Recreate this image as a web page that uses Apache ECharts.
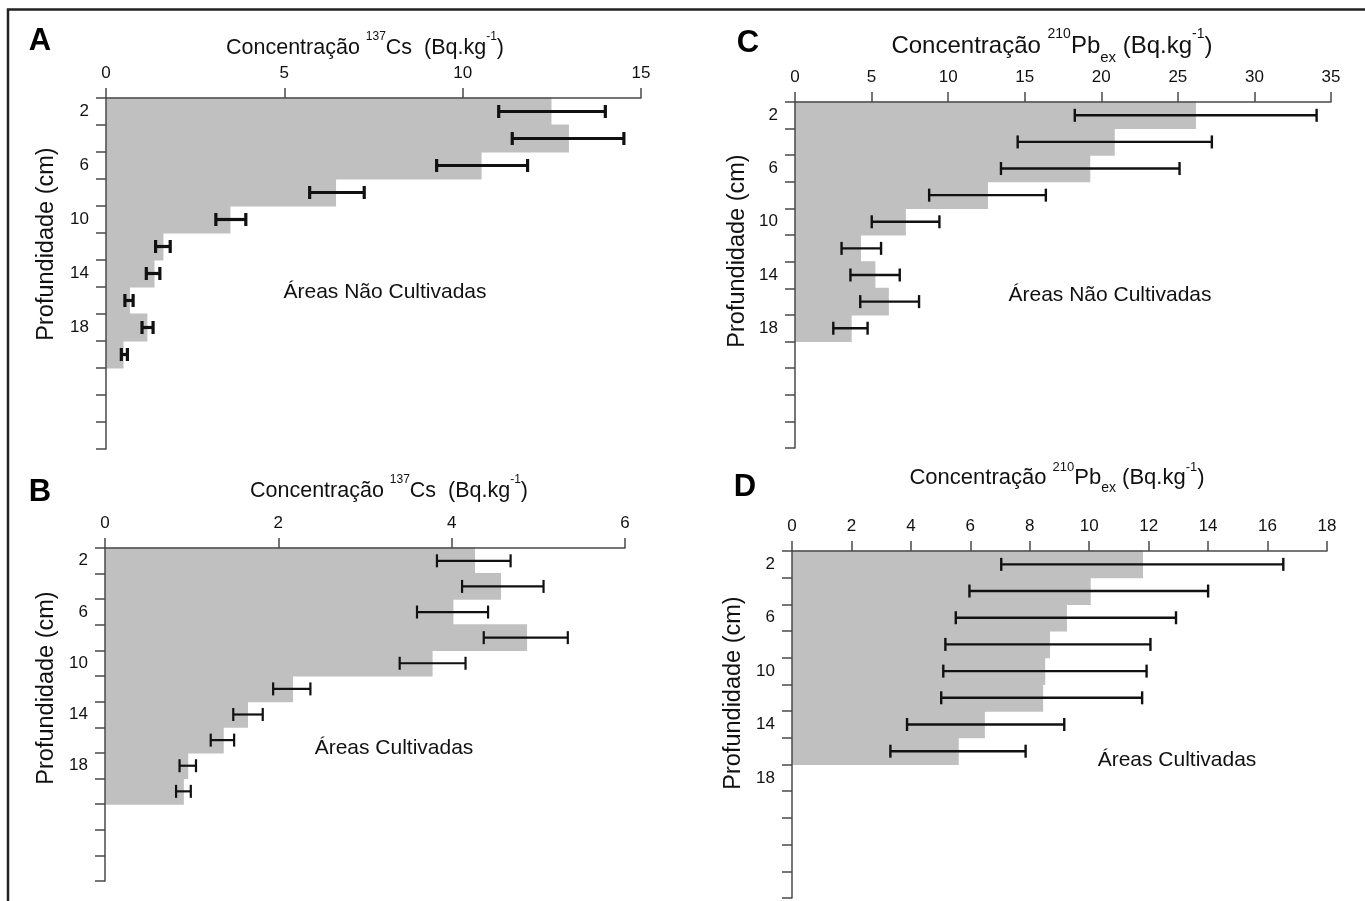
<!DOCTYPE html>
<html>
<head>
<meta charset="utf-8">
<script src="https://cdn.jsdelivr.net/npm/echarts@6/dist/echarts.min.js"></script>
<style>
html,body{margin:0;padding:0;background:#fff;}
#chart{width:1365px;height:901px;}
</style>
</head>
<body>
<div id="chart"></div>
<script>
// ---- Data ----
const depthBands = ['2','4','6','8','10','12','14','16','18','20','22','24','26'];
const depthLabelsShown = ['2','6','10','14','18'];

// A: 137Cs, Áreas Não Cultivadas
const csNaoCultValues = [12.49, 12.98, 10.53, 6.45, 3.49, 1.61, 1.36, 0.67, 1.16, 0.49];
const csNaoCultLow    = [11.01, 11.39, 9.27, 5.71, 3.08, 1.39, 1.13, 0.53, 1.01, 0.43];
const csNaoCultHigh   = [14.00, 14.52, 11.82, 7.24, 3.92, 1.80, 1.51, 0.76, 1.32, 0.60];

// B: 137Cs, Áreas Cultivadas
const csCultValues = [4.27, 4.57, 4.02, 4.87, 3.78, 2.17, 1.65, 1.37, 0.96, 0.91];
const csCultLow    = [3.83, 4.12, 3.60, 4.37, 3.40, 1.94, 1.48, 1.22, 0.86, 0.82];
const csCultHigh   = [4.68, 5.06, 4.42, 5.34, 4.16, 2.37, 1.82, 1.49, 1.05, 0.99];

// C: 210Pbex, Áreas Não Cultivadas
const pbNaoCultValues = [26.18, 20.88, 19.28, 12.60, 7.24, 4.31, 5.25, 6.13, 3.70];
const pbNaoCultLow    = [18.27, 14.54, 13.45, 8.76, 5.01, 3.04, 3.62, 4.26, 2.50];
const pbNaoCultHigh   = [34.06, 27.22, 25.11, 16.38, 9.43, 5.62, 6.84, 8.10, 4.74];

// D: 210Pbex, Áreas Cultivadas
const pbCultValues = [11.81, 10.05, 9.25, 8.68, 8.52, 8.45, 6.49, 5.61];
const pbCultLow    = [7.04, 5.97, 5.51, 5.16, 5.09, 5.02, 3.87, 3.31];
const pbCultHigh   = [16.53, 14.00, 12.92, 12.06, 11.93, 11.78, 9.16, 7.86];

// Axis scales (max, interval)
const axisMaxA = 15, axisIntA = 5;
const axisMaxB = 6,  axisIntB = 2;
const axisMaxC = 35, axisIntC = 5;
const axisMaxD = 18, axisIntD = 2;

const panelLetters = ['A','B','C','D'];
const titleCs = '{a|Concentração }{s|137}{a|Cs  (Bq.kg}{s|-1}{a|)}';
const titlePb = '{a|Concentração }{s|210}{a|Pb}{b|ex}{a| (Bq.kg}{s|-1}{a|)}';
const yName = 'Profundidade (cm)';
const noteNaoCult = 'Áreas Não Cultivadas';
const noteCult = 'Áreas Cultivadas';

// ---- Layout ----
const FONT = '"Liberation Sans", Arial, sans-serif';
const grids = [
  {left: 106, top: 98,  width: 535, height: 351},
  {left: 105, top: 548, width: 520, height: 333},
  {left: 795, top: 102, width: 536, height: 346},
  {left: 792, top: 551, width: 535, height: 347}
];
const axisCfg = [[axisMaxA, axisIntA],[axisMaxB, axisIntB],[axisMaxC, axisIntC],[axisMaxD, axisIntD]];
const panels = [
  {v: csNaoCultValues, lo: csNaoCultLow, hi: csNaoCultHigh, lw: 3.2},
  {v: csCultValues, lo: csCultLow, hi: csCultHigh, lw: 2.2},
  {v: pbNaoCultValues, lo: pbNaoCultLow, hi: pbNaoCultHigh, lw: 2.4},
  {v: pbCultValues, lo: pbCultLow, hi: pbCultHigh, lw: 2.4}
];
const axisColor = '#4a4a4a';
const textColor = '#111';
const barColor = '#c0c0c0';

const xAxes = [], yAxes = [], series = [];
panels.forEach((p, i) => {
  xAxes.push({
    type: 'value', gridIndex: i, position: 'top', min: 0,
    max: axisCfg[i][0], interval: axisCfg[i][1],
    axisLine: {show: true, lineStyle: {color: axisColor, width: 1.5}},
    axisTick: {show: true, inside: false, length: 10, lineStyle: {color: axisColor, width: 1.5}},
    axisLabel: {color: textColor, fontFamily: FONT, fontSize: 17, margin: 16},
    splitLine: {show: false}, z: 5
  });
  yAxes.push({
    type: 'category', gridIndex: i, inverse: true, data: depthBands,
    axisLine: {show: true, onZero: false, lineStyle: {color: axisColor, width: 1.5}},
    axisTick: {show: true, length: 10, interval: 0, lineStyle: {color: axisColor, width: 1.5}},
    axisLabel: {
      interval: 0, color: textColor, fontFamily: FONT, fontSize: 17, margin: 17,
      formatter: (v) => depthLabelsShown.includes(v) ? v : ''
    },
    splitLine: {show: false}, z: 5
  });
  // bars (custom so adjacent bands join without seams)
  const barData = p.v.map((v, k) => [v, k]);
  series.push({
    type: 'custom', xAxisIndex: i, yAxisIndex: i, data: barData, z: 1,
    encode: {x: 0, y: 1}, animation: false, silent: true,
    renderItem: (params, api) => {
      const s = api.coord([0, api.value(1)]);
      const e = api.coord([api.value(0), api.value(1)]);
      const h = api.size([0, 1])[1];
      return {type: 'rect',
        shape: {x: s[0], y: s[1] - h / 2 - 0.5, width: e[0] - s[0], height: h + 1},
        style: {fill: barColor}};
    }
  });
  const errData = p.lo.map((lo, k) => [lo, p.hi[k], k]);
  const lw = p.lw;
  series.push({
    type: 'custom', xAxisIndex: i, yAxisIndex: i, data: errData, z: 10,
    encode: {x: [0, 1], y: 2}, animation: false, silent: true,
    renderItem: (params, api) => {
      const a = api.coord([api.value(0), api.value(2)]);
      const b = api.coord([api.value(1), api.value(2)]);
      const y = a[1], cap = 6.5;
      const st = {stroke: '#111', lineWidth: lw};
      return {type: 'group', children: [
        {type: 'line', shape: {x1: a[0], y1: y, x2: b[0], y2: y}, style: st},
        {type: 'line', shape: {x1: a[0], y1: y - cap, x2: a[0], y2: y + cap}, style: st},
        {type: 'line', shape: {x1: b[0], y1: y - cap, x2: b[0], y2: y + cap}, style: st}
      ]};
    }
  });
});

function richFor(fs) {
  return {
    a: {fontSize: fs, fontFamily: FONT, color: textColor, lineHeight: Math.round(fs * 1.6)},
    s: {fontSize: Math.round(fs * 0.57), fontFamily: FONT, color: textColor, lineHeight: 12, verticalAlign: 'top'},
    b: {fontSize: Math.round(fs * 0.62), fontFamily: FONT, color: textColor, lineHeight: Math.round(fs * 0.95), verticalAlign: 'bottom'}
  };
}
function txt(x, y, text, size) {
  return {type: 'text', x: x, y: y, silent: true,
    style: {text: text, fill: textColor, font: size + 'px ' + FONT, align: 'center', verticalAlign: 'middle'}};
}
function rich(x, y, text, fs) {
  return {type: 'text', x: x, y: y, silent: true,
    style: {text: text, rich: richFor(fs), fill: textColor, align: 'center', verticalAlign: 'middle'}};
}
function letter(x, y, t) {
  return {type: 'text', x: x, y: y, silent: true,
    style: {text: t, fill: '#000', font: 'bold 31px ' + FONT, align: 'center', verticalAlign: 'middle'}};
}
function vname(x, y) {
  return {type: 'text', x: x, y: y, rotation: Math.PI / 2, silent: true,
    style: {text: yName, fill: textColor, font: '23.5px ' + FONT, align: 'center', verticalAlign: 'middle'}};
}

const graphic = [
  {type: 'polyline', silent: true, shape: {points: [[8, 901], [8, 9.5], [1365, 9.5]]},
   style: {stroke: '#222', lineWidth: 2.5, fill: null}},
  letter(40, 41, panelLetters[0]),
  letter(40, 492, panelLetters[1]),
  letter(748, 43, panelLetters[2]),
  letter(745, 487, panelLetters[3]),
  rich(365, 48, titleCs, 21.5),
  rich(389, 491, titleCs, 21.5),
  rich(1052, 46, titlePb, 24),
  rich(1057, 478, titlePb, 22),
  vname(47, 244),
  vname(47, 688),
  vname(738, 251),
  vname(734, 693),
  txt(385, 292, noteNaoCult, 21),
  txt(1110, 295, noteNaoCult, 21),
  txt(394, 748, noteCult, 21),
  txt(1177, 760, noteCult, 21)
];

const chart = echarts.init(document.getElementById('chart'), null, {renderer: 'canvas'});
chart.setOption({
  backgroundColor: '#fff',
  animation: false,
  grid: grids.map(g => Object.assign({containLabel: false}, g)),
  xAxis: xAxes,
  yAxis: yAxes,
  series: series,
  graphic: graphic
});
</script>
</body>
</html>
